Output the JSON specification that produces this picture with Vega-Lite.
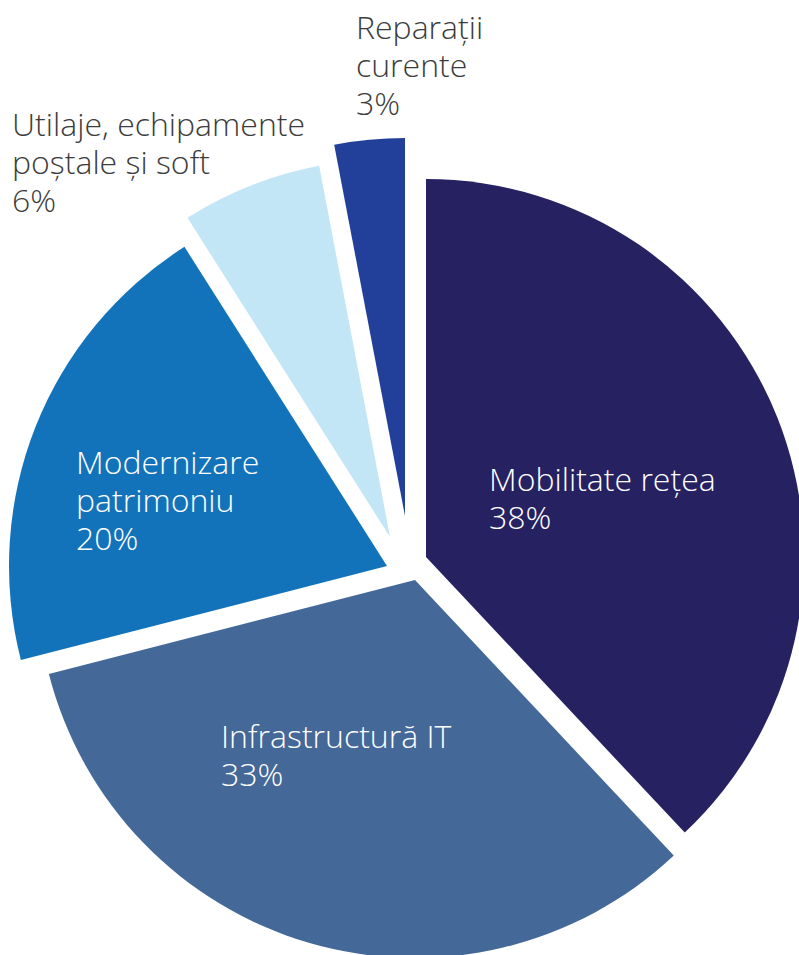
{
  "$schema": "https://vega.github.io/schema/vega-lite/v6.json",
  "width": 799,
  "height": 955,
  "autosize": {"type": "fit", "contains": "padding"},
  "padding": 0,
  "background": "white",
  "config": {"view": {"stroke": null}, "text": {"font": "Open Sans", "fontWeight": 300, "fontSize": 32, "lineHeight": 38, "align": "left", "baseline": "alphabetic", "lineBreak": "\n"}},
  "data": {
    "values": [
      {"categorie": "Mobilitate rețea", "valoare": 38, "eticheta": "Mobilitate rețea\n38%"},
      {"categorie": "Infrastructură IT", "valoare": 33, "eticheta": "Infrastructură IT\n33%"},
      {"categorie": "Modernizare patrimoniu", "valoare": 20, "eticheta": "Modernizare\npatrimoniu\n20%"},
      {"categorie": "Utilaje, echipamente poștale și soft", "valoare": 6, "eticheta": "Utilaje, echipamente\npoștale și soft\n6%"},
      {"categorie": "Reparații curente", "valoare": 3, "eticheta": "Reparații\ncurente\n3%"}
    ]
  },
  "transform": [
    {"stack": "valoare", "groupby": [], "sort": [{"field": "valoare", "order": "descending"}], "as": ["v0", "v1"]}
  ],
  "encoding": {
    "theta": {"field": "v0", "type": "quantitative", "scale": {"domain": [0, 100]}},
    "theta2": {"field": "v1"},
    "color": {
      "field": "categorie",
      "type": "nominal",
      "legend": null,
      "scale": {
        "domain": ["Mobilitate rețea", "Infrastructură IT", "Modernizare patrimoniu", "Utilaje, echipamente poștale și soft", "Reparații curente"],
        "range": ["#262262", "#446898", "#1373BA", "#C3E6F6", "#22409A"]
      }
    }
  },
  "layer": [
    {"transform": [{"filter": "datum.categorie === 'Mobilitate rețea'"}], "mark": {"type": "arc", "radius": 378, "xOffset": 31.5, "yOffset": 83}},
    {"transform": [{"filter": "datum.categorie === 'Infrastructură IT'"}], "mark": {"type": "arc", "radius": 378, "xOffset": 20.5, "yOffset": 106}},
    {"transform": [{"filter": "datum.categorie === 'Modernizare patrimoniu'"}], "mark": {"type": "arc", "radius": 378, "xOffset": -7.5, "yOffset": 92}},
    {"transform": [{"filter": "datum.categorie === 'Utilaje, echipamente poștale și soft'"}], "mark": {"type": "arc", "radius": 378, "xOffset": -4.5, "yOffset": 63}},
    {"transform": [{"filter": "datum.categorie === 'Reparații curente'"}], "mark": {"type": "arc", "radius": 378, "xOffset": 10.5, "yOffset": 42}},
    {"transform": [{"filter": "datum.categorie === 'Mobilitate rețea'"}], "mark": {"type": "text", "color": "white", "dx": 94.5, "dy": 17}, "encoding": {"text": {"field": "eticheta"}, "theta": null, "theta2": null, "color": null}},
    {"transform": [{"filter": "datum.categorie === 'Infrastructură IT'"}], "mark": {"type": "text", "color": "white", "dx": -173.5, "dy": 274}, "encoding": {"text": {"field": "eticheta"}, "theta": null, "theta2": null, "color": null}},
    {"transform": [{"filter": "datum.categorie === 'Modernizare patrimoniu'"}], "mark": {"type": "text", "color": "white", "dx": -318.5, "dy": 0}, "encoding": {"text": {"field": "eticheta"}, "theta": null, "theta2": null, "color": null}},
    {"transform": [{"filter": "datum.categorie === 'Utilaje, echipamente poștale și soft'"}], "mark": {"type": "text", "color": "#3c3c3c", "dx": -382.5, "dy": -338}, "encoding": {"text": {"field": "eticheta"}, "theta": null, "theta2": null, "color": null}},
    {"transform": [{"filter": "datum.categorie === 'Reparații curente'"}], "mark": {"type": "text", "color": "#3c3c3c", "dx": -38.5, "dy": -435}, "encoding": {"text": {"field": "eticheta"}, "theta": null, "theta2": null, "color": null}}
  ]
}
